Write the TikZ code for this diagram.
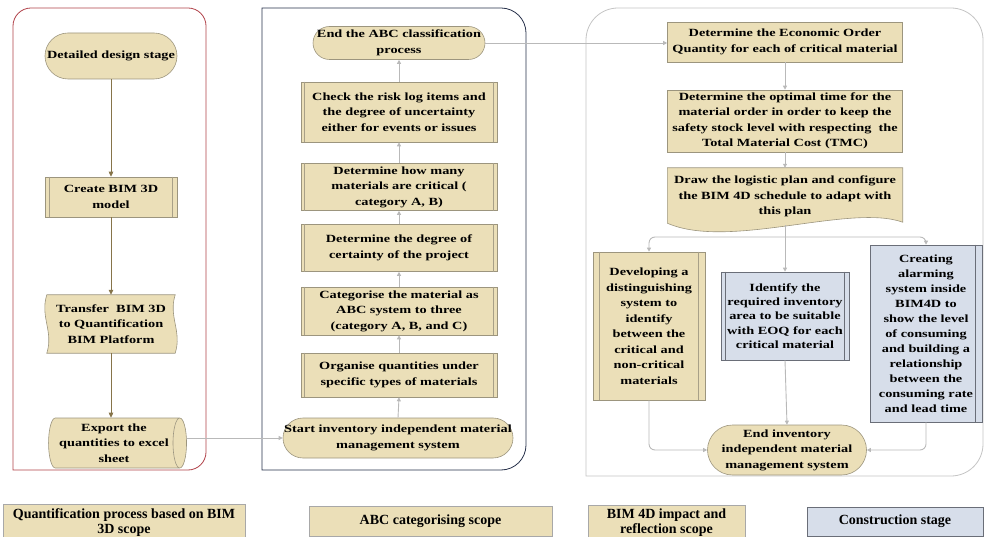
\documentclass[tikz,border=0pt]{standalone}
\usepackage{fontspec}
\setmainfont{Liberation Serif}[FakeStretch=1.3]
\newfontfamily\legfont{Liberation Serif}[FakeStretch=1.0]
\usetikzlibrary{arrows.meta,shapes.geometric,backgrounds,calc}
\definecolor{tanfill}{HTML}{EBDFB8}
\definecolor{bluefill}{HTML}{D7DEEA}
\definecolor{boxline}{HTML}{9C957E}
\definecolor{blueline}{HTML}{6A6E78}
\definecolor{ppcol}{HTML}{A8A088}
\definecolor{garrow}{HTML}{B9B9B9}
\definecolor{oarrow}{HTML}{86744A}
\definecolor{leftc}{HTML}{B04048}
\definecolor{midc}{HTML}{26304A}
\definecolor{rightc}{HTML}{C4C4C4}
\definecolor{legline}{HTML}{A8A8A8}
\tikzset{
  every node/.style={font=\fontsize{11}{15.5}\selectfont\bfseries, align=center, inner sep=0pt},
  sz/.style 2 args={minimum width=#1pt, minimum height=#2pt},
  tanbox/.style={draw=boxline, fill=tanfill, line width=0.6pt},
  bluebox/.style={draw=blueline, fill=bluefill, line width=0.6pt},
  ppline/.style={draw=ppcol, line width=0.6pt},
  ppdark/.style={draw=blueline, line width=0.8pt},
  gar/.style={draw=garrow, line width=0.9pt, -{Triangle[length=4pt,width=4pt]}},
  gline/.style={draw=garrow, line width=0.9pt},
  oar/.style={draw=oarrow, line width=0.9pt, -{Triangle[length=5pt,width=4.5pt]}},
  legbox/.style={draw=legline, line width=0.6pt, font=\legfont\fontsize{14}{15}\selectfont\bfseries},
}
\newcommand\ppboth[3][ppline]{%
  \draw[#1] ([xshift=#3pt]#2.north west) -- ([xshift=#3pt]#2.south west);
  \draw[#1] ([xshift=-#3pt]#2.north east) -- ([xshift=-#3pt]#2.south east);}
\newcommand\ppright[3][ppline]{%
  \draw[#1] ([xshift=-#3pt]#2.north east) -- ([xshift=-#3pt]#2.south east);}
\begin{document}
\begin{tikzpicture}[x=1pt,y=-1pt]
\useasboundingbox (0,0) rectangle (985,537);
\clip (0,0) rectangle (985,537);

% containers
\draw[draw=leftc, line width=0.8pt] (13,300) -- (13,470) -- (110,470) [rounded corners=18pt] -- (206,470) -- (206,8) -- (13,8) -- cycle;
\draw[draw=midc, line width=0.8pt] (262,300) -- (262,8) -- (400,8) [rounded corners=25pt] -- (526,8) -- (526,470) -- (400,470) [sharp corners] -- (262,470) -- cycle;
\draw[draw=rightc, line width=0.8pt] (586,300) [rounded corners=32pt] -- (586,8) -- (983,8) -- (983,476) -- (700,476) [sharp corners] -- (586,476) -- cycle;

% left column
\node[tanbox, sz={132}{46}, rounded corners=23pt] (dds) at (111,56) {Detailed design stage};
\node[tanbox, sz={132}{40}] (cbm) at (111,197) {Create BIM 3D\\model};
\ppboth{cbm}{5}
\node[sz={128}{58}] (tbm) at (111,324) {Transfer~ BIM 3D\\to Quantification\\BIM Platform};
\begin{scope}[on background layer]
\draw[tanbox] (tbm.north west) .. controls ($(tbm.north west)+(-7,22)$) and ($(tbm.south west)+(7,-22)$) .. (tbm.south west) -- (tbm.south east) .. controls ($(tbm.south east)+(7,-22)$) and ($(tbm.north east)+(-7,22)$) .. (tbm.north east) -- cycle;
\end{scope}
\node[cylinder, shape aspect=.35, cylinder uses custom fill, cylinder body fill=tanfill, cylinder end fill=tanfill, draw=boxline, line width=0.6pt, minimum width=50pt, minimum height=138pt] (etq) at (114,443) {Export the\\quantities to excel\\sheet};

% middle column
\node[tanbox, sz={172}{33}, rounded corners=16.5pt] (endabc) at (399,43) {End the ABC classification\\process};
\node[tanbox, sz={196}{60}] (chk) at (399,112) {Check the risk log items and\\the degree of uncertainty\\either for events or issues};
\ppboth{chk}{4}
\node[tanbox, sz={196}{47}] (dhm) at (399,187) {Determine how many\\materials are critical (\\category A, B)};
\ppboth{dhm}{4}
\node[tanbox, sz={196}{47}] (ddc) at (399,248) {Determine the degree of\\certainty of the project};
\ppboth{ddc}{4}
\node[tanbox, sz={196}{48}] (cat) at (399,311) {Categorise the material as\\ABC system to three\\(category A, B, and C)};
\ppboth{cat}{4}
\node[tanbox, sz={196}{44}] (org) at (399,375) {Organise quantities under\\specific types of materials};
\ppboth{org}{4}
\node[tanbox, sz={230}{40}, rounded corners=20pt] (start) at (398,438) {Start inventory independent material\\management system};

% right column
\node[tanbox, sz={235}{40}] (eoq) at (785,42) {Determine the Economic Order\\Quantity for each of critical material};
\node[tanbox, sz={235}{62}] (opt) at (785,121) {Determine the optimal time for the\\material order in order to keep the\\safety stock level with respecting~ the\\Total Material Cost (TMC)};
\node[sz={235}{57}] (drw) at (785,196.5) {Draw the logistic plan and configure\\the BIM 4D schedule to adapt with\\this plan};
\begin{scope}[on background layer]
\draw[tanbox] (drw.north west) -- (drw.north east) -- ($(drw.south east)+(0,-3)$) .. controls ($(drw.south east)+(-53,-22)$) and ($(drw.south west)+(62,25)$) .. ($(drw.south west)+(0,-2)$) -- cycle;
\end{scope}
\node[tanbox, sz={112}{148}] (dev) at (649,326) {Developing a\\distinguishing\\system to\\identify\\between the\\critical and\\non-critical\\materials};
\ppboth{dev}{7}
\node[bluebox, sz={128}{88}, font=\fontsize{11}{14.2}\selectfont\bfseries] (idt) at (785,316) {Identify the\\required inventory\\area to be suitable\\with EOQ for each\\critical material};
\ppboth[ppdark]{idt}{5}
\node[bluebox, sz={112}{177}, font=\fontsize{11}{15}\selectfont\bfseries] (crt) at (926,333.5) {Creating\\alarming\\system inside\\BIM4D to\\show the level\\of consuming\\and building a\\relationship\\between the\\consuming rate\\and lead time};
\ppright[ppdark]{crt}{7}
\node[tanbox, sz={159}{50}, rounded corners=25pt] (endinv) at (787,450) {End inventory\\independent material\\management system};

% connectors
\draw[oar] (dds.south) -- (cbm.north);
\draw[oar] (cbm.south) -- (tbm.north);
\draw[oar] (tbm.south) -- (tbm.south |- etq.north);
\draw[gar] (etq.east |- start.west) -- (start.west);
\draw[gar] (start.north) -- (org.south);
\draw[gar] (org.north) -- (cat.south);
\draw[gar] (cat.north) -- (ddc.south);
\draw[gar] (ddc.north) -- (dhm.south);
\draw[gar] (dhm.north) -- (chk.south);
\draw[gar] (chk.north) -- (endabc.south);
\draw[gar] (endabc.east) -- (endabc.east -| eoq.west);
\draw[gar] (eoq.south) -- (opt.north);
\draw[gar] (opt.south) -- (drw.north);
\coordinate (fork) at (785,237);
\draw[gline] (drw.south) -- (fork);
\draw[gar] (fork) -- (idt.north);
\draw[gar, rounded corners=6pt] (fork) -| (dev.north);
\draw[gar, rounded corners=6pt] (fork) -| (crt.north);
\draw[gar, rounded corners=6pt] (dev.south) |- (endinv.west);
\draw[gar] (idt.south) -- (endinv.north);
\draw[gar, rounded corners=6pt] (crt.south) |- (endinv.east);

% legend
\node[legbox, fill=tanfill, sz={242}{37}] (lg1) at (124,522.5) {Quantification process based on BIM\\3D scope};
\node[legbox, fill=tanfill, sz={243}{30}] (lg2) at (430.5,521) {ABC categorising scope};
\node[legbox, fill=tanfill, sz={157}{35}] (lg3) at (666.5,522.5) {BIM 4D impact and\\reflection scope};
\node[legbox, fill=bluefill, draw=blueline, sz={176}{29}] (lg4) at (895,521.5) {Construction stage};
\end{tikzpicture}
\end{document}
